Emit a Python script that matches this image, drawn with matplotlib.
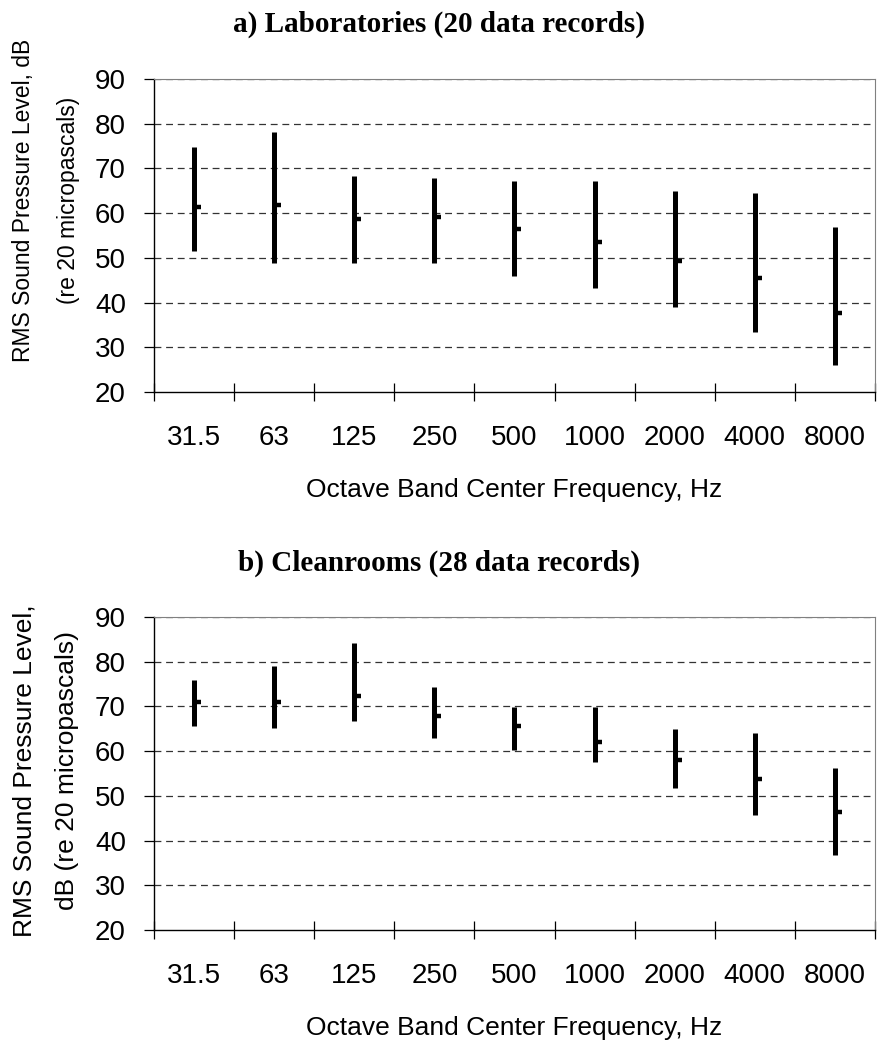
import matplotlib
matplotlib.use('Agg')
import matplotlib.pyplot as plt
from matplotlib import font_manager

bands = ['31.5', '63', '125', '250', '500', '1000', '2000', '4000', '8000']

lab_high = [74.9, 78.2, 68.3, 67.8, 67.3, 67.3, 65.0, 64.4, 56.8]
lab_low = [51.5, 48.8, 48.8, 48.8, 45.9, 43.2, 38.9, 33.5, 26.0]
lab_mean = [61.4, 61.9, 58.6, 59.1, 56.4, 53.6, 49.3, 45.4, 37.7]

clean_high = [75.9, 79.1, 84.1, 74.3, 69.9, 69.9, 65.0, 64.0, 56.2]
clean_low = [65.7, 65.1, 66.7, 63.0, 60.3, 57.5, 51.7, 45.7, 36.8]
clean_mean = [71.1, 71.1, 72.3, 67.9, 65.7, 62.0, 58.0, 53.8, 46.5]

y_ticks = [20, 30, 40, 50, 60, 70, 80, 90]

W, H = 878, 1044


def has_font(name):
    try:
        font_manager.findfont(font_manager.FontProperties(family=name), fallback_to_default=False)
        return True
    except ValueError:
        return False


SANS = 'Liberation Sans' if has_font('Liberation Sans') else 'DejaVu Sans'
SERIF = 'Liberation Serif' if has_font('Liberation Serif') else 'DejaVu Serif'

plt.rcParams['font.family'] = SANS


def px_x(x):
    return x / W


def px_y(y):
    return 1 - y / H


def draw_panel(fig, top_px, high, low, mean):
    ax = fig.add_axes([px_x(154), px_y(top_px + 313), px_x(721), 313 / H])
    x = list(range(len(bands)))

    ax.set_xlim(-0.5, len(bands) - 0.5)
    ax.set_ylim(20, 90)

    # dashed grid, the 90 line sits on the gray frame
    for v in y_ticks[1:]:
        ax.axhline(v, color='#333333', lw=0.9, ls=(0, (5.5, 3.8)), zorder=1)

    # high-low bars with the mean as a tick to the right
    ax.vlines(x, low, high, color='black', lw=3.6, capstyle='butt', zorder=3)
    ax.plot(x, mean, ls='none', marker=1, ms=5, mew=3.2, color='black', zorder=4)

    ax.set_xticks(x)
    ax.set_xticklabels(bands)
    ax.set_xticks([i - 0.5 for i in range(len(bands) + 1)], minor=True)
    ax.tick_params(axis='x', which='major', length=0, pad=23.5, labelsize=20)
    ax.tick_params(axis='x', which='minor', direction='inout', length=13.5, width=0.9)

    ax.set_yticks(y_ticks)
    ax.tick_params(axis='y', direction='out', length=7.2, width=0.9, pad=13, labelsize=20)

    for side in ['left', 'bottom']:
        ax.spines[side].set_color('black')
        ax.spines[side].set_linewidth(1.0)
    for side in ['top', 'right']:
        ax.spines[side].set_color('#808080')
        ax.spines[side].set_linewidth(0.8)

    fig.text(px_x(514.5), px_y(top_px + 313 + 105), 'Octave Band Center Frequency, Hz',
             ha='center', va='baseline', fontsize=19)
    return ax


fig = plt.figure(figsize=(W / 100, H / 100), dpi=100)

draw_panel(fig, 79, lab_high, lab_low, lab_mean)
draw_panel(fig, 617, clean_high, clean_low, clean_mean)

fig.text(0.5, px_y(32), 'a) Laboratories (20 data records)', ha='center', va='baseline',
         family=SERIF, weight='bold', fontsize=21)
fig.text(0.5, px_y(571), 'b) Cleanrooms (28 data records)', ha='center', va='baseline',
         family=SERIF, weight='bold', fontsize=21)

fig.text(px_x(46), px_y(200), 'RMS Sound Pressure Level, dB\n(re 20 micropascals)',
         rotation=90, ha='center', va='center', multialignment='center',
         fontsize=16.5, linespacing=2.2)
fig.text(px_x(46), px_y(771), 'RMS Sound Pressure Level,\ndB (re 20 micropascals)',
         rotation=90, ha='center', va='center', multialignment='center',
         fontsize=19, linespacing=1.95)

fig.savefig('out.png', dpi=100)
